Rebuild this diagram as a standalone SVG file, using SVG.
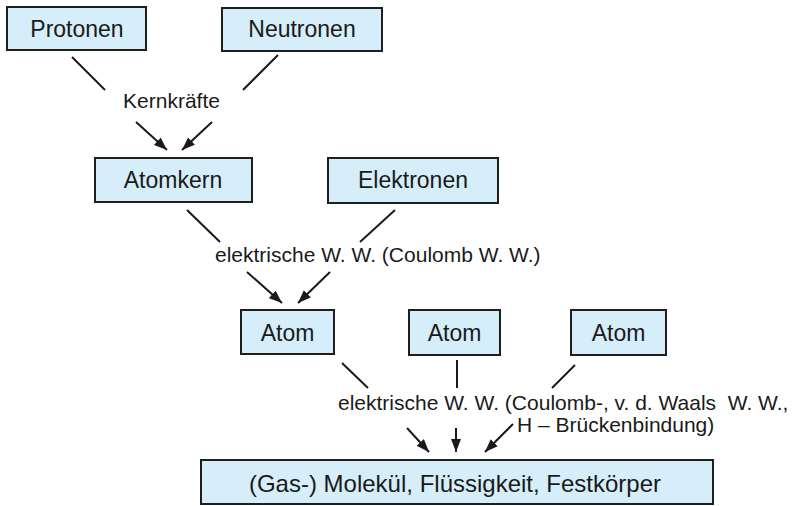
<svg xmlns="http://www.w3.org/2000/svg" width="796" height="506" viewBox="0 0 796 506">
<style>
.box{fill:#d6eef9;stroke:#1e1e1e;stroke-width:2}
.lbl{font-family:"Liberation Sans",Arial,sans-serif;font-size:23px;fill:#1a1a1a;text-anchor:middle}
.big{font-size:24px}
.note{font-family:"Liberation Sans",Arial,sans-serif;font-size:21px;fill:#1a1a1a}
.ln{stroke:#1a1a1a;stroke-width:2;fill:none}
.ar{stroke:#1a1a1a;stroke-width:2;fill:none;marker-end:url(#ah)}
</style>
<defs>
<marker id="ah" markerUnits="userSpaceOnUse" markerWidth="14" markerHeight="11" refX="13" refY="5" orient="auto">
<path d="M0,0 L13,5 L0,10 z" fill="#1a1a1a"/>
</marker>
</defs>
<rect width="796" height="506" fill="#fff"/>
<g id="protonen"><rect class="box" x="7" y="7" width="139" height="43"/><text class="lbl" x="77" y="36.5">Protonen</text></g>
<g id="neutronen"><rect class="box" x="222" y="8" width="160" height="43"/><text class="lbl" x="302" y="37">Neutronen</text></g>
<g id="atomkern"><rect class="box" x="95" y="158" width="157" height="44"/><text class="lbl" x="173" y="188">Atomkern</text></g>
<g id="elektronen"><rect class="box" x="328" y="158" width="170" height="45"/><text class="lbl" x="413" y="188">Elektronen</text></g>
<g id="atom1"><rect class="box" x="241" y="310" width="93" height="44"/><text class="lbl" x="287.5" y="340.5">Atom</text></g>
<g id="atom2"><rect class="box" x="409" y="310" width="91" height="45"/><text class="lbl" x="454.5" y="340.5">Atom</text></g>
<g id="atom3"><rect class="box" x="571" y="310" width="95" height="45"/><text class="lbl" x="618.5" y="340.5">Atom</text></g>
<g id="stoff"><rect class="box" x="201" y="460" width="512" height="44"/><text class="lbl big" x="455" y="492">(Gas-) Molekül, Flüssigkeit, Festkörper</text></g>
<g id="labels">
<text class="note" x="171.5" y="108" text-anchor="middle">Kernkräfte</text>
<text class="note" x="215" y="262">elektrische W. W. (Coulomb W. W.)</text>
<text class="note" x="338" y="410" xml:space="preserve">elektrische W. W. (Coulomb-, v. d. Waals  W. W.,</text>
<text class="note" x="517" y="432">H – Brückenbindung)</text>
</g>
<g id="connectors">
<line class="ln" x1="72" y1="57" x2="105" y2="90"/>
<line class="ln" x1="278" y1="55" x2="243" y2="90"/>
<line class="ar" x1="136" y1="122" x2="167" y2="150"/>
<line class="ar" x1="212" y1="122" x2="182" y2="150"/>
<line class="ln" x1="187" y1="210" x2="220" y2="242"/>
<line class="ln" x1="395" y1="210" x2="360" y2="242"/>
<line class="ar" x1="247" y1="272" x2="282" y2="303"/>
<line class="ar" x1="330" y1="272" x2="298" y2="303"/>
<line class="ln" x1="342" y1="363" x2="368" y2="388"/>
<line class="ln" x1="457" y1="360" x2="457" y2="388"/>
<line class="ln" x1="575" y1="365" x2="552" y2="388"/>
<line class="ar" x1="407" y1="428" x2="429" y2="452"/>
<line class="ar" x1="456" y1="428" x2="456" y2="452"/>
<line class="ar" x1="513" y1="424" x2="485" y2="452"/>
</g>
</svg>
